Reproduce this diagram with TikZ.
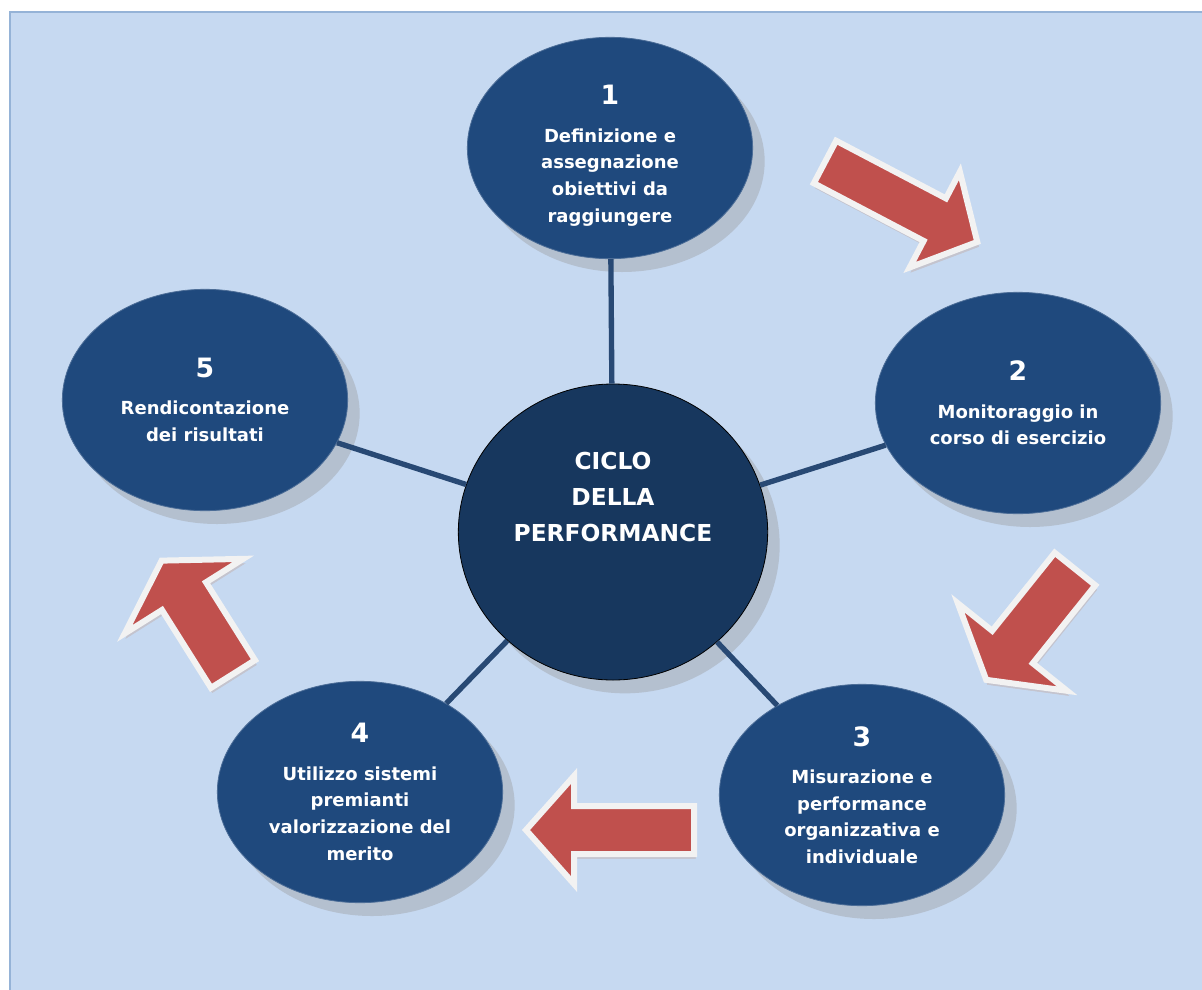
\documentclass[tikz,border=0pt]{standalone}
\usepackage{fontspec}
\setmainfont{DejaVu Sans}
\usetikzlibrary{shapes.geometric,shadows}

\definecolor{paneblue}{HTML}{C6D9F1}
\definecolor{paneedge}{HTML}{95B3D7}
\definecolor{stepblue}{HTML}{1F497D}
\definecolor{hubblue}{HTML}{17375E}
\definecolor{spokeblue}{HTML}{284974}
\definecolor{shadegray}{HTML}{B4C0CF}
\definecolor{arrowred}{HTML}{C0504D}
\definecolor{arrowrim}{HTML}{F2F2F2}
\definecolor{arrowshade}{HTML}{C4C4CE}

\tikzset{
  phase/.style={ellipse, fill=stepblue, draw=stepblue!80!white, line width=0.6pt,
    text=white, font=\bfseries\fontsize{13.5}{20}\selectfont, align=center,
    inner sep=0pt, minimum width=214pt, minimum height=166pt,
    drop shadow={shadow xshift=9pt, shadow yshift=-10pt, fill=shadegray, opacity=1}},
  hub/.style={phase, fill=hubblue, draw=black, minimum width=232pt, minimum height=222pt},
  hubtext/.style={text=white, font=\bfseries\fontsize{17.5}{27}\selectfont, align=center},
  spoke/.style={spokeblue, line width=4pt},
  cyclearrow/.style={fill=arrowred, draw=arrowrim, line width=4.5pt, line join=miter,
    preaction={fill=arrowshade, draw=arrowshade, transform canvas={xshift=1pt, yshift=-3.5pt}}},
}
\newcommand\phasenum[1]{{\fontsize{20}{20}\selectfont #1}\\[8pt]}

\begin{document}
\begin{tikzpicture}[x=0.75pt, y=-0.75pt]
\useasboundingbox (0,0) rectangle (1202,989);
\fill[white] (0,0) rectangle (1202,989);
\filldraw[fill=paneblue, draw=paneedge, line width=1.5pt] (10,12) rectangle (1212,1000);

% the five phases round the hub
\node[hub, label={[hubtext, yshift=26pt]center:CICLO\\DELLA\\PERFORMANCE}] (hub) at (613,532) {};
\node[phase] (p1) at (610,148) {\phasenum{\rule{0pt}{26pt}1}Definizione e\\assegnazione\\obiettivi da\\raggiungere};
\node[phase] (p2) at (1018,403) {\phasenum{2}Monitoraggio in\\corso di esercizio};
\node[phase] (p3) at (862,795) {\phasenum{3}Misurazione e\\performance\\organizzativa e\\individuale};
\node[phase] (p4) at (360,792) {\phasenum{4}Utilizzo sistemi\\premianti\\valorizzazione del\\merito};
\node[phase] (p5) at (205,400) {\phasenum{5}Rendicontazione\\dei risultati};

\foreach \p in {p1,p2,p3,p4,p5}
  \draw[spoke] (hub) -- (\p);

% block arrows: tail x/y, angle, length, shaft and head half widths, head length
\foreach \x/\y/\a/\l/\s/\w/\h in {825/162/-27.7/172/24/54/48, 1075/569/231.3/142/26/70/42,
    694/830/180/168/24/54/48, 233/674/122.2/134/26/70/42}
  \filldraw[cyclearrow, shift={(\x,\y)}, rotate=\a]
    (0,-\s) -- (\l-\h,-\s) -- (\l-\h,-\w) -- (\l,0) -- (\l-\h,\w) -- (\l-\h,\s) -- (0,\s) -- cycle;
\end{tikzpicture}
\end{document}
